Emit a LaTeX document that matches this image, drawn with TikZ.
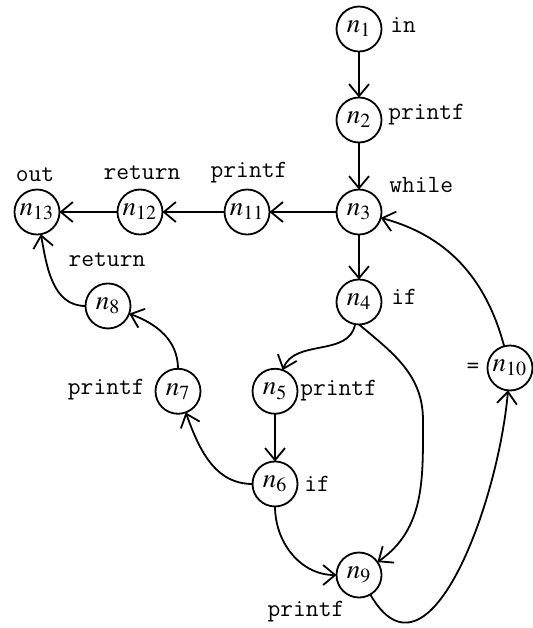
\documentclass[tikz,border=0pt]{standalone}
\usepackage{fontspec}
\usepackage{mathptmx}
\usepackage{tikz, tkz-graph}
\usetikzlibrary{arrows.meta}

\begin{document}
\begin{tikzpicture}[>={Straight Barb[length=6pt,width=10pt]}]
  \tikzset{VertexStyle/.style = {shape = circle,draw,line width=0.9pt,minimum size = 22.5pt,inner sep=0pt,font=\fontsize{13.5}{15}\selectfont}}
  \tikzset{EdgeStyle/.style = {->,line width=0.9pt}}
  \tikzset{TagStyle/.style = {inner sep=0pt,font=\fontsize{12.4}{14}\selectfont\ttfamily}}
\useasboundingbox (0,0) rectangle (9.349cm,11.036cm);
\Vertex[LabelOut=false,L=\hbox{$n_{1}$},x=6.309cm,y=10.526cm]{n1}
\Vertex[LabelOut=false,L=\hbox{$n_{2}$},x=6.309cm,y=8.927cm]{n2}
\Vertex[LabelOut=false,L=\hbox{$n_{3}$},x=6.309cm,y=7.310cm]{n3}
\Vertex[LabelOut=false,L=\hbox{$n_{4}$},x=6.309cm,y=5.729cm]{n4}
\Vertex[LabelOut=false,L=\hbox{$n_{5}$},x=4.833cm,y=4.160cm]{n5}
\Vertex[LabelOut=false,L=\hbox{$n_{6}$},x=4.833cm,y=2.531cm]{n6}
\Vertex[LabelOut=false,L=\hbox{$n_{7}$},x=3.128cm,y=4.160cm]{n7}
\Vertex[LabelOut=false,L=\hbox{$n_{8}$},x=1.898cm,y=5.659cm]{n8}
\Vertex[LabelOut=false,L=\hbox{$n_{9}$},x=6.309cm,y=0.931cm]{n9}
\Vertex[LabelOut=false,L=\hbox{$n_{10}$},x=8.962cm,y=4.569cm]{n10}
\Vertex[LabelOut=false,L=\hbox{$n_{11}$},x=4.341cm,y=7.310cm]{n11}
\Vertex[LabelOut=false,L=\hbox{$n_{12}$},x=2.460cm,y=7.310cm]{n12}
\Vertex[LabelOut=false,L=\hbox{$n_{13}$},x=0.650cm,y=7.310cm]{n13}
%
\node[TagStyle,anchor=west] (t1) at (6.853cm,10.597cm) {in};
\node[TagStyle,anchor=west] (t2) at (6.818cm,9.015cm) {printf};
\node[TagStyle,anchor=west] (t3) at (6.836cm,7.785cm) {while};
\node[TagStyle,anchor=west] (t4) at (6.871cm,5.817cm) {if};
\node[TagStyle,anchor=west] (t5) at (5.272cm,4.165cm) {printf};
\node[TagStyle,anchor=west] (t6) at (5.342cm,2.531cm) {if};
\node[TagStyle,anchor=east] (t7) at (2.548cm,4.182cm) {printf};
\node[TagStyle] (t8) at (1.880cm,6.467cm) {return};
\node[TagStyle] (t9) at (5.377cm,0.281cm) {printf};
\node[TagStyle] (t10) at (8.312cm,4.569cm) {=};
\node[TagStyle] (t11) at (4.376cm,7.996cm) {printf};
\node[TagStyle] (t12) at (2.495cm,7.996cm) {return};
\node[TagStyle] (t13) at (0.615cm,7.961cm) {out};
%
\Edge[lw=0.9pt](n1)(n2)
\Edge[lw=0.9pt](n2)(n3)
\Edge[lw=0.9pt](n3)(n4)
\Edge[lw=0.9pt](n3)(n11)
\Edge[lw=0.9pt](n11)(n12)
\Edge[lw=0.9pt](n12)(n13)
\Edge[lw=0.9pt,style={out=-100,in=70}](n4)(n5)
\draw[EdgeStyle] (n4.south) to[out=-40,in=90] (7.433cm,3.655cm) to[out=-90,in=35] (n9);
\Edge[lw=0.9pt](n5)(n6)
\Edge[lw=0.9pt,style={out=180,in=-70}](n6)(n7)
\Edge[lw=0.9pt,style={out=-90,in=180}](n6)(n9)
\Edge[lw=0.9pt,style={out=90,in=-20}](n7)(n8)
\Edge[lw=0.9pt,style={out=180,in=-80}](n8)(n13)
\Edge[lw=0.9pt,style={out=-60,in=-95,looseness=1.2}](n9)(n10)
\Edge[lw=0.9pt,style={out=105,in=-15}](n10)(n3)
\end{tikzpicture}
\end{document}
